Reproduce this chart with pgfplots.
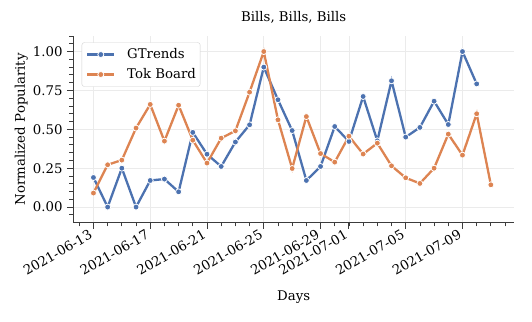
\documentclass[border=0pt]{standalone}
\usepackage{fontspec}
\setmainfont{DejaVu Serif}
\usepackage{pgfplots}
\pgfplotsset{compat=1.18}
\definecolor{sbblue}{HTML}{4C72B0}
\definecolor{sborange}{HTML}{DD8452}
\definecolor{spine}{HTML}{3C3C3C}
\definecolor{gridc}{HTML}{EBEBEB}
\begin{document}
\fontsize{13.3bp}{16bp}\selectfont
\begin{tikzpicture}
\begin{axis}[
  at={(0,0)}, anchor=south west,
  scale only axis, width=440.7bp, height=186.3bp,
  xmin=-1.42, xmax=29.63, ymin=-0.098, ymax=1.1,
  axis x line*=bottom, axis y line*=left,
  axis line style={spine, line width=1.2bp},
  tick align=outside,
  major tick length=6.5bp, minor tick length=4bp,
  every tick/.style={spine, line width=1bp},
  every minor tick/.style={spine, line width=0.8bp},
  xtick={0,4,8,12,16,18,22,26},
  xticklabels={2021-06-13,2021-06-17,2021-06-21,2021-06-25,2021-06-29,2021-07-01,2021-07-05,2021-07-09},
  minor xtick={-1,0,...,29},
  ytick={0,0.25,0.5,0.75,1},
  minor ytick={-0.05,0.05,0.1,0.15,0.2,0.3,0.35,0.4,0.45,0.55,0.6,0.65,0.7,0.8,0.85,0.9,0.95,1.05,1.1},
  /pgf/number format/assume math mode=true,
  yticklabel style={/pgf/number format/fixed, /pgf/number format/fixed zerofill, /pgf/number format/precision=2, inner sep=0pt, anchor=east, xshift=-4bp},
  xticklabel style={xshift=-5bp, rotate=30, anchor=north east, inner sep=0pt},
  grid=major, major grid style={gridc, line width=0.8bp},
  title={Bills, Bills, Bills},
  title style={at={(axis description cs:0.5,1.046)}, anchor=base, inner sep=0pt},
  xlabel={Days},
  xlabel style={at={(axis description cs:0.5,-0.4208)}, anchor=base, inner sep=0pt},
  ylabel={Normalized Popularity},
  ylabel style={at={(axis description cs:-0.1096,0.5)}, anchor=base, inner sep=0pt},
  legend style={at={(0.019,0.966)}, anchor=north west, draw=black!18, fill=white,
    rounded corners=2.5bp, inner xsep=4.3bp, inner ysep=5.5bp, row sep=7bp, column sep=11.7bp,
    nodes={inner sep=0pt, text height=10bp, text depth=3bp}},
  legend cell align=left,
  legend image code/.code={\draw[mark repeat=2,mark phase=2] plot coordinates {(0bp,0bp)(13.5bp,0bp)(27bp,0bp)};},
]
\addplot[sbblue, line width=2.3bp, mark=*, mark size=3bp, mark options={draw=white, fill=sbblue, line width=0.8bp}] coordinates {
(0,0.19) (1,0.00) (2,0.25) (3,0.00) (4,0.171) (5,0.18) (6,0.098) (7,0.48)
(8,0.34) (9,0.261) (10,0.418) (11,0.529) (12,0.90) (13,0.69) (14,0.492) (15,0.171)
(16,0.261) (17,0.518) (18,0.422) (19,0.711) (20,0.426) (21,0.812) (22,0.45) (23,0.512)
(24,0.681) (25,0.531) (26,1.00) (27,0.792)
};
\addlegendentry{GTrends}
\addplot[sborange, line width=2.3bp, mark=*, mark size=3bp, mark options={draw=white, fill=sborange, line width=0.8bp}] coordinates {
(0,0.09) (1,0.272) (2,0.302) (3,0.508) (4,0.66) (5,0.424) (6,0.655) (7,0.43)
(8,0.283) (9,0.443) (10,0.49) (11,0.739) (12,1.00) (13,0.561) (14,0.248) (15,0.582)
(16,0.344) (17,0.289) (18,0.456) (19,0.341) (20,0.411) (21,0.265) (22,0.188) (23,0.152)
(24,0.25) (25,0.469) (26,0.334) (27,0.6) (28,0.143)
};
\addlegendentry{Tok Board}
\end{axis}
\pgfresetboundingbox
\useasboundingbox (-73.3bp,-99.7bp) rectangle (458.7bp,222.3bp);
\end{tikzpicture}
\end{document}
